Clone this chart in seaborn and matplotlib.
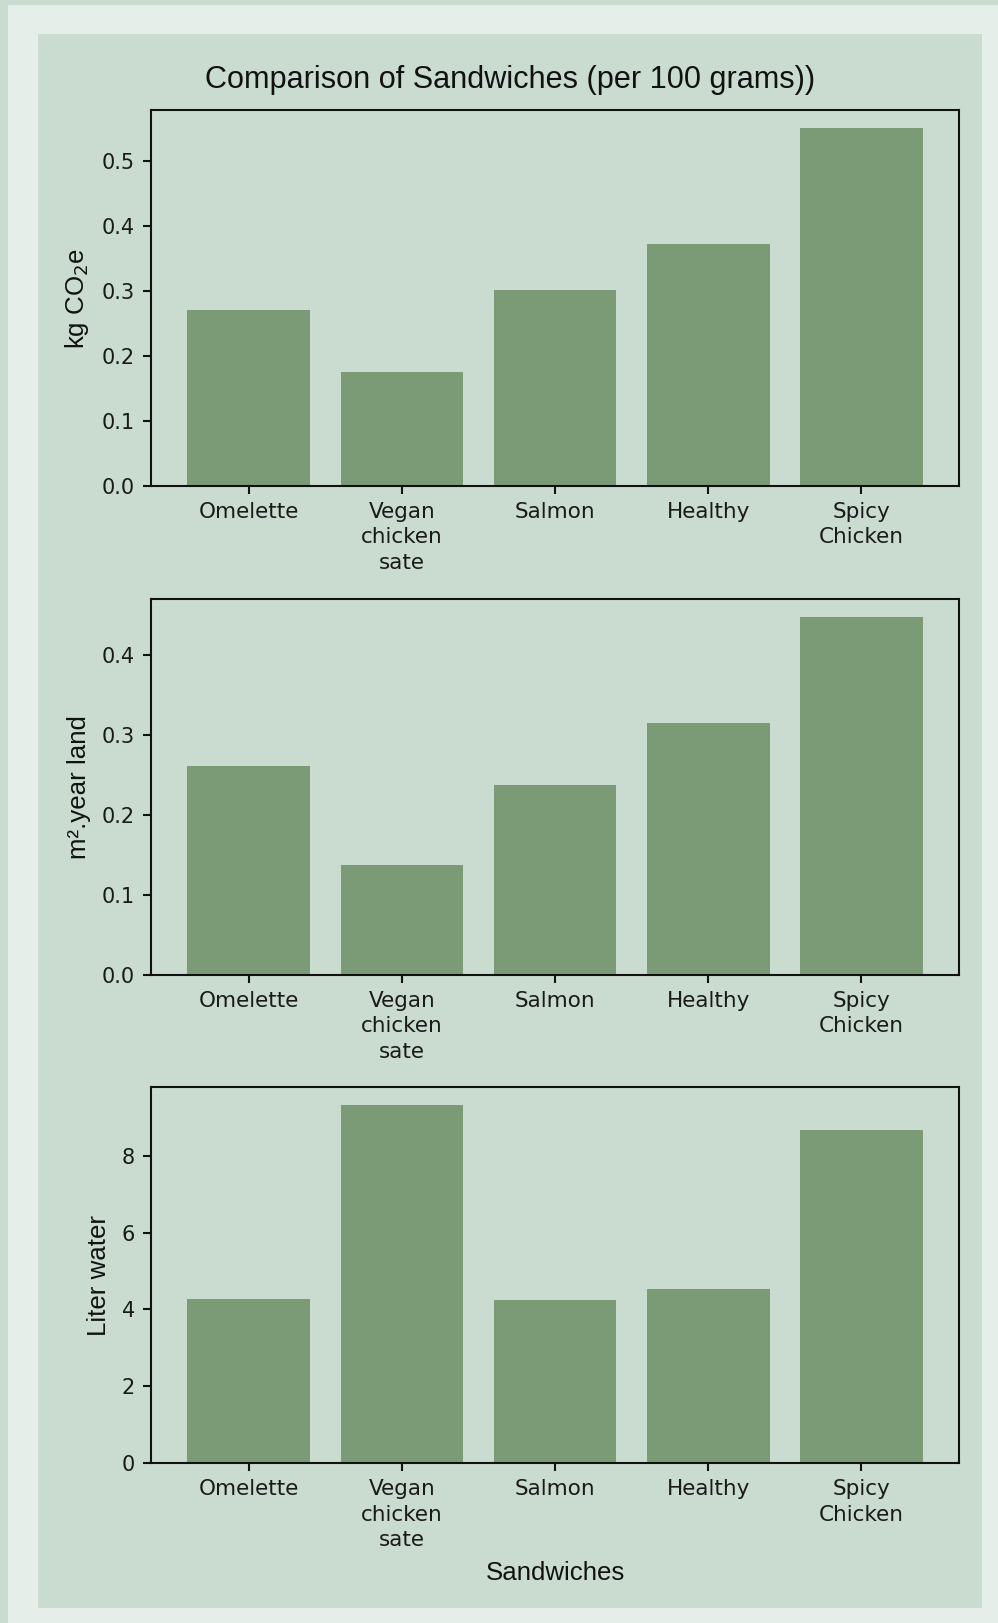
import matplotlib
matplotlib.use("Agg")
import matplotlib.pyplot as plt
from matplotlib.patches import Rectangle
import seaborn as sns
import pandas as pd

# Sandwich footprint per 100 grams
sandwiches = ["Omelette", "Vegan\nchicken\nsate", "Salmon", "Healthy", "Spicy\nChicken"]
co2_kg = [0.271, 0.175, 0.302, 0.372, 0.551]
land_m2_year = [0.262, 0.138, 0.238, 0.315, 0.448]
water_liter = [4.28, 9.31, 4.25, 4.53, 8.67]

y_labels = ["kg CO$_2$e", "m\u00b2.year land", "Liter water"]
series = [co2_kg, land_m2_year, water_liter]

PAGE = "#cadcd0"
PANEL = "#e5eee9"
BAR = "#7b9a76"

sns.set_theme(style="ticks")
plt.rcParams["font.family"] = ["Liberation Sans", "DejaVu Sans"]
plt.rcParams["mathtext.fontset"] = "dejavusans"

W, H, DPI = 998, 1623, 150
fig = plt.figure(figsize=(W / DPI, H / DPI), dpi=DPI)
fig.patch.set_facecolor(PANEL)


def px_rect(x0, y0, x1, y1, color):
    """Rectangle given in pixel coordinates measured from the top-left corner."""
    fig.add_artist(Rectangle((x0 / W, 1 - y1 / H), (x1 - x0) / W, (y1 - y0) / H,
                             transform=fig.transFigure, facecolor=color,
                             edgecolor="none", zorder=-10))


# page background strips and the figure card
px_rect(0, 0, W, 5, PAGE)
px_rect(0, 0, 8, H, PAGE)
px_rect(38, 34, 982, 1608, PAGE)

left, right = 150.6, 959.5
tops = [110.0, 599.0, 1087.3]
height = 376.0

axes = []
for top, vals, ylab in zip(tops, series, y_labels):
    ax = fig.add_axes([left / W, 1 - (top + height) / H, (right - left) / W, height / H])
    ax.set_facecolor(PAGE)
    df = pd.DataFrame({"Sandwich": sandwiches, "Value": vals})
    sns.barplot(data=df, x="Sandwich", y="Value", color=BAR, saturation=1,
                width=0.8, linewidth=0, ax=ax)
    ax.set_xlim(-0.64, 4.64)
    ax.set_ylim(0, max(vals) * 1.05)
    ax.set_xlabel("")
    ax.set_ylabel(ylab, fontsize=12.4, color="#111111", labelpad=5)
    for s in ax.spines.values():
        s.set_linewidth(1.0)
        s.set_color("#111111")
    ax.tick_params(axis="both", direction="out", length=4, width=1.0, color="#111111",
                   labelcolor="#1a1a1a")
    for lab in ax.get_xticklabels():
        lab.set_fontfamily("DejaVu Sans")
        lab.set_fontsize(10.3)
        lab.set_linespacing(1.35)
    for lab in ax.get_yticklabels():
        lab.set_fontfamily("DejaVu Sans")
        lab.set_fontsize(10)
    axes.append(ax)

axes[-1].set_xlabel("Sandwiches", fontsize=12.4, color="#111111", labelpad=5)
fig.text(510 / W, 1 - 80 / H, "Comparison of Sandwiches (per 100 grams))",
         ha="center", va="center", fontsize=14.7, color="#111111")

fig.savefig("out.png", dpi=DPI, facecolor=fig.get_facecolor())
